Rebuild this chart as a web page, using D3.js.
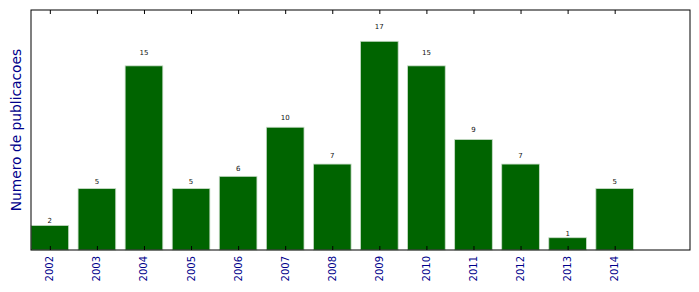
<!DOCTYPE html>
<html><head><meta charset="utf-8">
<script src="https://cdn.jsdelivr.net/npm/d3@7"></script>
<style>body{margin:0;background:#fff}svg{display:block}</style>
</head><body>
<svg id="c" width="699" height="292"></svg>
<script>
const years = ["2002","2003","2004","2005","2006","2007","2008","2009","2010","2011","2012","2013","2014"];
const counts = [2,5,15,5,6,10,7,17,15,9,7,1,5];
const yLabel = "Numero de publicacoes";

const svg = d3.select("#c");
const L = 31, R = 690, T = 10, B = 250;
const font = "DejaVu Sans, sans-serif";
const x = d3.scaleLinear().domain([0, 14]).range([L, R]);
const y = d3.scaleLinear().domain([0, 19.55]).range([B, T]);
const bw = 0.8;

svg.append("rect").attr("x", L).attr("y", T).attr("width", R - L).attr("height", B - T).attr("fill", "#fff");

svg.selectAll("rect.bar").data(counts).enter().append("rect")
  .attr("class", "bar")
  .attr("x", (d, i) => x(i))
  .attr("y", d => y(d))
  .attr("width", (d, i) => x(i + bw) - x(i))
  .attr("height", d => B - y(d))
  .attr("fill", "#006400")
  .attr("stroke", "#c8dcc8")
  .attr("stroke-width", 0.8);

svg.selectAll("text.val").data(counts).enter().append("text")
  .attr("class", "val")
  .attr("x", (d, i) => x(i + bw / 2))
  .attr("y", d => y(d * 1.05) - 1.5)
  .attr("text-anchor", "middle")
  .attr("font-family", font)
  .attr("font-size", 7)
  .attr("fill", "#111")
  .text(d => d);

// frame
svg.append("rect").attr("x", L).attr("y", T).attr("width", R - L).attr("height", B - T)
  .attr("fill", "none").attr("stroke", "#000").attr("stroke-width", 1);

// x axes (bottom + top), ticks inside
const tickVals = years.map((d, i) => i + bw / 2);
const bottomAxis = d3.axisBottom(x).tickValues(tickVals).tickSize(-4).tickFormat("");
const topAxis = d3.axisTop(x).tickValues(tickVals).tickSize(-4).tickFormat("");
const gb = svg.append("g").attr("transform", `translate(0,${B})`).call(bottomAxis);
const gt = svg.append("g").attr("transform", `translate(0,${T})`).call(topAxis);
[gb, gt].forEach(g => { g.select(".domain").remove(); g.selectAll("line").attr("stroke", "#000"); });

svg.selectAll("text.yr").data(years).enter().append("text")
  .attr("class", "yr")
  .attr("transform", (d, i) => `translate(${x(i + bw / 2)},${B + 6}) rotate(-90)`)
  .attr("text-anchor", "end")
  .attr("dominant-baseline", "central")
  .attr("font-family", font)
  .attr("font-size", 10)
  .attr("fill", "#00008b")
  .text(d => d);

svg.append("text")
  .attr("transform", `translate(16,${(T + B) / 2}) rotate(-90)`)
  .attr("text-anchor", "middle")
  .attr("dominant-baseline", "central")
  .attr("font-family", font)
  .attr("font-size", 13.8)
  .attr("fill", "#00008b")
  .text(yLabel);
</script>
</body></html>
